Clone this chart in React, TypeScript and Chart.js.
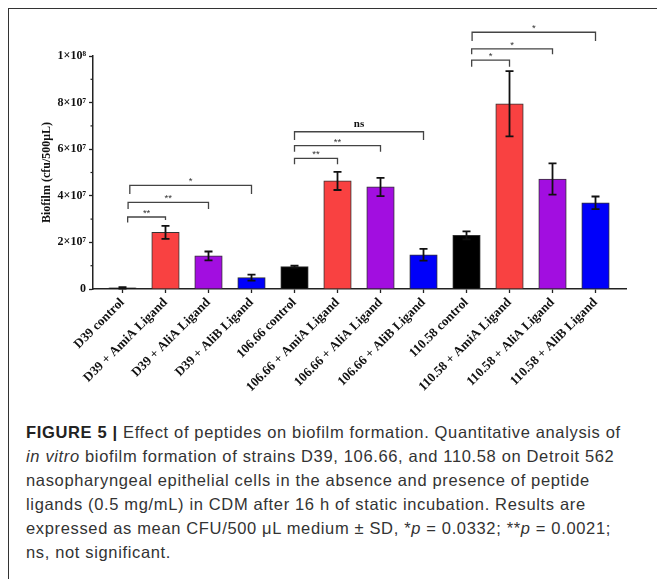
import { useEffect, useRef } from 'react'
import { Chart, registerables } from 'chart.js'
import type { Plugin } from 'chart.js'

Chart.register(...registerables)

const categories = [
  'D39 control',
  'D39 + AmiA Ligand',
  'D39 + AliA Ligand',
  'D39 + AliB Ligand',
  '106.66 control',
  '106.66 + AmiA Ligand',
  '106.66 + AliA Ligand',
  '106.66 + AliB Ligand',
  '110.58 control',
  '110.58 + AmiA Ligand',
  '110.58 + AliA Ligand',
  '110.58 + AliB Ligand',
]
const biofilm = [5e5, 2.43e7, 1.42e7, 4.9e6, 9.6e6, 4.64e7, 4.38e7, 1.47e7, 2.3e7, 7.95e7, 4.72e7, 3.7e7]
const sd = [3e5, 2.8e6, 1.9e6, 1.3e6, 4e5, 3.9e6, 3.9e6, 2.5e6, 1.7e6, 1.4e7, 6.7e6, 2.7e6]
const barColors = [
  '#000000', '#f94141', '#a20ee0', '#0000fa',
  '#000000', '#f94141', '#a20ee0', '#0000fa',
  '#000000', '#f94141', '#a20ee0', '#0000fa',
]
const yTicks = [0, 2e7, 4e7, 6e7, 8e7, 1e8]
const yTickLabels = ['0', '2×10⁷', '4×10⁷', '6×10⁷', '8×10⁷', '1×10⁸']
const yMinorTicks = [1e7, 3e7, 5e7, 7e7, 9e7]

// significance brackets: from/to bar index, top value, leg ends, label
const bracketFrom = [0.12, 0.13, 0.17, 4, 4, 4, 8.12, 8.12, 8.13]
const bracketTo = [1, 2, 3, 5, 6, 7, 9, 10, 11]
const bracketTop = [3.09e7, 3.72e7, 4.45e7, 5.61e7, 6.15e7, 6.75e7, 9.82e7, 1.031e8, 1.102e8]
const bracketLegLeft = [2.85e7, 3.43e7, 4.08e7, 5.35e7, 5.89e7, 6.39e7, 9.54e7, 1.007e8, 1.064e8]
const bracketLegRight = [2.96e7, 3.43e7, 4.08e7, 5.35e7, 5.89e7, 6.39e7, 9.54e7, 1.007e8, 1.064e8]
const bracketLabel = ['**', '**', '*', '**', '**', 'ns', '*', '*', '*']

const SERIF = "'Liberation Serif', 'Times New Roman', serif"

const errorBars: Plugin<'bar'> = {
  id: 'errorBars',
  afterDatasetsDraw(chart) {
    const { ctx } = chart
    const y = chart.scales.y
    const meta = chart.getDatasetMeta(0)
    ctx.save()
    ctx.strokeStyle = '#111'
    ctx.lineWidth = 1.8
    meta.data.forEach((bar, i) => {
      const x = bar.x
      const top = y.getPixelForValue(biofilm[i] + sd[i])
      const bottom = y.getPixelForValue(Math.max(biofilm[i] - sd[i], 0))
      ctx.beginPath()
      ctx.moveTo(x, top)
      ctx.lineTo(x, bottom)
      ctx.moveTo(x - 4, top)
      ctx.lineTo(x + 4, top)
      ctx.moveTo(x - 4, bottom)
      ctx.lineTo(x + 4, bottom)
      ctx.stroke()
    })
    ctx.restore()
  },
}

const extras: Plugin<'bar'> = {
  id: 'extras',
  afterDraw(chart) {
    const { ctx } = chart
    const x = chart.scales.x
    const y = chart.scales.y
    ctx.save()
    // minor ticks on the y axis
    ctx.strokeStyle = '#222'
    ctx.lineWidth = 1.2
    for (const v of yMinorTicks) {
      const py = y.getPixelForValue(v)
      ctx.beginPath()
      ctx.moveTo(x.left - 2.5, py)
      ctx.lineTo(x.left, py)
      ctx.stroke()
    }
    // brackets
    ctx.strokeStyle = '#444'
    ctx.lineWidth = 1.3
    bracketLabel.forEach((label, i) => {
      const x1 = x.getPixelForValue(bracketFrom[i])
      const x2 = x.getPixelForValue(bracketTo[i])
      const top = y.getPixelForValue(bracketTop[i])
      ctx.beginPath()
      ctx.moveTo(x1, y.getPixelForValue(bracketLegLeft[i]))
      ctx.lineTo(x1, top)
      ctx.lineTo(x2, top)
      ctx.lineTo(x2, y.getPixelForValue(bracketLegRight[i]))
      ctx.stroke()
      ctx.textAlign = 'center'
      ctx.textBaseline = 'bottom'
      if (label === 'ns') {
        ctx.fillStyle = '#111'
        ctx.font = `bold 11px ${SERIF}`
        ctx.fillText(label, (x1 + x2) / 2, top - 2)
      } else {
        ctx.fillStyle = '#333'
        ctx.font = "9.5px 'Liberation Sans', sans-serif"
        ctx.fillText(label, (x1 + x2) / 2, top + 1)
      }
    })
    ctx.restore()
  },
}

export default function App() {
  const canvasRef = useRef<HTMLCanvasElement>(null)

  useEffect(() => {
    if (!canvasRef.current) return
    const chart = new Chart(canvasRef.current, {
      type: 'bar',
      data: {
        datasets: [
          {
            data: biofilm.map((v, i) => ({ x: i, y: v })),
            backgroundColor: barColors,
            borderColor: '#333',
            borderWidth: 1,
            barThickness: 27.5,
          },
        ],
      },
      plugins: [errorBars, extras],
      options: {
        responsive: false,
        animation: false,
        layout: { padding: { top: 56, right: 31, left: 0, bottom: 0 } },
        plugins: { legend: { display: false }, tooltip: { enabled: false } },
        scales: {
          x: {
            type: 'linear',
            offset: false,
            min: -0.686,
            max: 11.709,
            afterBuildTicks: (s) => {
              s.ticks = categories.map((_, i) => ({ value: i }))
            },
            afterFit: (s) => {
              s.height = 121
            },
            ticks: {
              autoSkip: false,
              maxRotation: 45,
              minRotation: 45,
              padding: 2,
              color: '#111',
              font: { family: SERIF, size: 13, weight: 'bold' },
              callback: (v) => categories[Number(v)],
            },
            grid: {
              offset: false,
              drawOnChartArea: false,
              tickLength: 4,
              tickColor: '#222',
              tickWidth: 1.3,
            },
            border: { color: '#222', width: 1.5 },
          },
          y: {
            min: 0,
            max: 1e8,
            afterBuildTicks: (s) => {
              s.ticks = yTicks.map((value) => ({ value }))
            },
            afterFit: (s) => {
              s.width = 93
            },
            ticks: {
              padding: 3,
              color: '#111',
              font: { family: SERIF, size: 12, weight: 'bold' },
              callback: (v) => yTickLabels[yTicks.indexOf(Number(v))],
            },
            title: {
              display: true,
              text: 'Biofilm (cfu/500μL)',
              color: '#111',
              font: { family: SERIF, size: 12, weight: 'bold' },
              padding: { top: 40, bottom: 0 },
            },
            grid: { drawOnChartArea: false, tickLength: 4, tickColor: '#222', tickWidth: 1.3 },
            border: { color: '#222', width: 1.5 },
          },
        },
      },
    })
    return () => chart.destroy()
  }, [])

  return (
    <div
      style={{
        position: 'absolute',
        left: 0,
        top: 0,
        width: 657,
        height: 579,
        background: '#fff',
        overflow: 'hidden',
      }}
    >
      <div
        style={{
          position: 'absolute',
          left: 8,
          top: 8,
          right: -10,
          bottom: -10,
          borderLeft: '1px solid #333',
          borderTop: '1px solid #333',
        }}
      />
      <canvas
        ref={canvasRef}
        width={657}
        height={410}
        style={{ position: 'absolute', left: 0, top: 0, width: 657, height: 410 }}
      />
      <div
        style={{
          position: 'absolute',
          left: 26,
          top: 420,
          fontFamily: "'Liberation Sans', Arial, sans-serif",
          fontSize: 16.5,
          letterSpacing: '0.65px',
          lineHeight: '24px',
          color: '#333',
          whiteSpace: 'nowrap',
        }}
      >
        <div>
          <b style={{ color: '#222' }}>FIGURE 5 |</b> Effect of peptides on biofilm formation. Quantitative analysis of
        </div>
        <div>
          <i>in vitro</i> biofilm formation of strains D39, 106.66, and 110.58 on Detroit 562
        </div>
        <div>nasopharyngeal epithelial cells in the absence and presence of peptide</div>
        <div>ligands (0.5 mg/mL) in CDM after 16 h of static incubation. Results are</div>
        <div>
          expressed as mean CFU/500 μL medium ± SD, *<i>p</i> = 0.0332; **<i>p</i> = 0.0021;
        </div>
        <div>ns, not significant.</div>
      </div>
    </div>
  )
}
